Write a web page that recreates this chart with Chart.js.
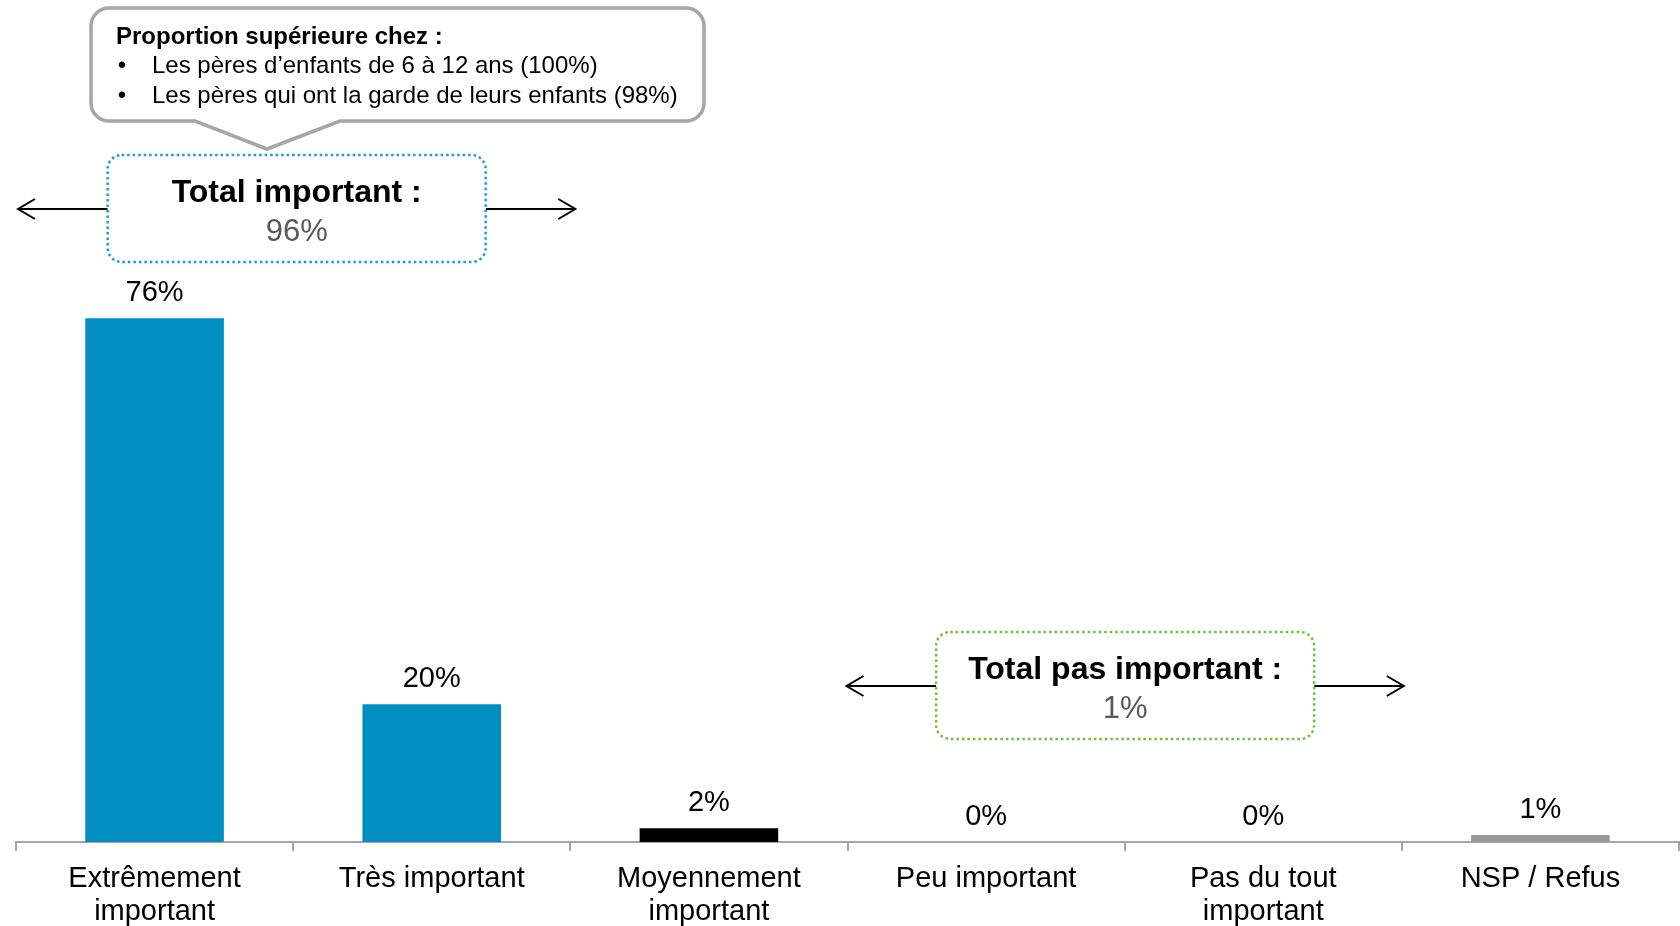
<!DOCTYPE html>
<html>
<head>
<meta charset="utf-8">
<script src="https://cdn.jsdelivr.net/npm/chart.js@4/dist/chart.umd.min.js"></script>
<style>
html,body{margin:0;padding:0;background:#fff;}
#wrap{width:1680px;height:926px;}
</style>
</head>
<body>
<div id="wrap"><canvas id="c" width="1680" height="926"></canvas></div>
<script>
const categories = [
  ['Extrêmement', 'important'],
  'Très important',
  ['Moyennement', 'important'],
  'Peu important',
  ['Pas du tout', 'important'],
  'NSP / Refus'
];
const values = [76, 20, 2, 0, 0, 1];
const barColors = ['#008FC0', '#008FC0', '#000000', '#000000', '#000000', '#999999'];

const calloutTitle = 'Proportion supérieure chez :';
const calloutLines = [
  'Les pères d\u2019enfants de 6 à 12 ans (100%)',
  'Les pères qui ont la garde de leurs enfants (98%)'
];
const totalImportantLabel = 'Total important :';
const totalImportantValue = '96%';
const totalPasImportantLabel = 'Total pas important :';
const totalPasImportantValue = '1%';

const FONT = '"Liberation Sans", Arial, Helvetica, sans-serif';

const valueLabels = {
  id: 'valueLabels',
  afterDatasetsDraw(chart) {
    const ctx = chart.ctx;
    const meta = chart.getDatasetMeta(0);
    ctx.save();
    ctx.font = '29px ' + FONT;
    ctx.fillStyle = '#000';
    ctx.textAlign = 'center';
    ctx.textBaseline = 'middle';
    meta.data.forEach((bar, i) => {
      ctx.fillText(values[i] + '%', bar.x, bar.y - 25);
    });
    ctx.restore();
  }
};

function arrow(ctx, x1, x2, y) {
  ctx.beginPath();
  ctx.moveTo(x1, y);
  ctx.lineTo(x2, y);
  ctx.stroke();
  const dir = x2 > x1 ? 1 : -1;
  ctx.beginPath();
  ctx.moveTo(x1 + dir * 17, y - 10);
  ctx.lineTo(x1, y);
  ctx.lineTo(x1 + dir * 17, y + 10);
  ctx.stroke();
}

function roundRect(ctx, x, y, w, h, r) {
  ctx.beginPath();
  ctx.moveTo(x + r, y);
  ctx.lineTo(x + w - r, y);
  ctx.arcTo(x + w, y, x + w, y + r, r);
  ctx.lineTo(x + w, y + h - r);
  ctx.arcTo(x + w, y + h, x + w - r, y + h, r);
  ctx.lineTo(x + r, y + h);
  ctx.arcTo(x, y + h, x, y + h - r, r);
  ctx.lineTo(x, y + r);
  ctx.arcTo(x, y, x + r, y, r);
  ctx.closePath();
}

function totalBox(ctx, left, right, top, color, label, value) {
  const w = 378, h = 107;
  const cx = (left + right) / 2;
  const bx = cx - w / 2;
  const ay = top + 54;
  ctx.save();
  ctx.strokeStyle = '#000';
  ctx.lineWidth = 2;
  arrow(ctx, left, bx, ay);
  arrow(ctx, right, bx + w, ay);
  roundRect(ctx, bx, top, w, h, 14);
  ctx.fillStyle = '#fff';
  ctx.fill();
  ctx.setLineDash([2.5, 3]);
  ctx.lineWidth = 2.5;
  ctx.strokeStyle = color;
  ctx.stroke();
  ctx.setLineDash([]);
  ctx.textAlign = 'center';
  ctx.textBaseline = 'middle';
  ctx.fillStyle = '#000';
  ctx.font = 'bold 32px ' + FONT;
  ctx.fillText(label, cx, top + 38);
  ctx.fillStyle = '#595959';
  ctx.font = '31px ' + FONT;
  ctx.fillText(value, cx, top + 77);
  ctx.restore();
}

const annotations = {
  id: 'annotations',
  afterDraw(chart) {
    const ctx = chart.ctx;
    const xs = chart.scales.x;
    const area = chart.chartArea;
    const b = (i) => (xs.getPixelForValue(i) + xs.getPixelForValue(i + 1)) / 2;

    ctx.save();
    const x = 91, y = 8, w = 613, h = 113, r = 18;
    const tipX = 267, tipY = 149, baseL = 195, baseR = 340;
    ctx.beginPath();
    ctx.moveTo(x + r, y);
    ctx.lineTo(x + w - r, y);
    ctx.arcTo(x + w, y, x + w, y + r, r);
    ctx.lineTo(x + w, y + h - r);
    ctx.arcTo(x + w, y + h, x + w - r, y + h, r);
    ctx.lineTo(baseR, y + h);
    ctx.lineTo(tipX, tipY);
    ctx.lineTo(baseL, y + h);
    ctx.lineTo(x + r, y + h);
    ctx.arcTo(x, y + h, x, y + h - r, r);
    ctx.lineTo(x, y + r);
    ctx.arcTo(x, y, x + r, y, r);
    ctx.closePath();
    ctx.fillStyle = '#fff';
    ctx.fill();
    ctx.lineWidth = 3.5;
    ctx.lineJoin = 'miter';
    ctx.strokeStyle = '#A6A6A6';
    ctx.stroke();

    ctx.fillStyle = '#000';
    ctx.textBaseline = 'middle';
    ctx.textAlign = 'left';
    ctx.font = 'bold 24px ' + FONT;
    ctx.fillText(calloutTitle, 116, 37.5);
    ctx.font = '24px ' + FONT;
    calloutLines.forEach((t, i) => {
      const ly = 66.5 + i * 29.5;
      ctx.textAlign = 'center';
      ctx.fillText('\u2022', 122, ly);
      ctx.textAlign = 'left';
      ctx.fillText(t, 152, ly);
    });
    ctx.restore();

    totalBox(ctx, area.left + 2, b(1) + 5, 155, '#1E9AD0', totalImportantLabel, totalImportantValue);
    totalBox(ctx, b(2) - 1, b(4) + 2, 632, '#7DB83A', totalPasImportantLabel, totalPasImportantValue);
  }
};

new Chart(document.getElementById('c'), {
  type: 'bar',
  data: {
    labels: categories,
    datasets: [{
      data: values,
      backgroundColor: barColors,
      borderWidth: 0,
      barPercentage: 0.5,
      categoryPercentage: 1.0
    }]
  },
  options: {
    responsive: false,
    devicePixelRatio: 1,
    animation: false,
    layout: { padding: { top: 153, left: 16, right: 1, bottom: 0 } },
    plugins: {
      legend: { display: false },
      tooltip: { enabled: false },
      title: { display: false }
    },
    scales: {
      x: {
        offset: true,
        afterFit(scale) { scale.height = 84; },
        grid: {
          display: true,
          offset: true,
          drawOnChartArea: false,
          drawTicks: true,
          tickLength: 9,
          color: '#A6A6A6',
          lineWidth: 2
        },
        border: { display: true, color: '#A6A6A6', width: 2 },
        ticks: {
          autoSkip: false,
          maxRotation: 0,
          minRotation: 0,
          padding: 11,
          color: '#000',
          font: { family: FONT, size: 29, lineHeight: 1.14 }
        }
      },
      y: {
        display: false,
        min: 0,
        max: 100
      }
    }
  },
  plugins: [valueLabels, annotations]
});
</script>
</body>
</html>
